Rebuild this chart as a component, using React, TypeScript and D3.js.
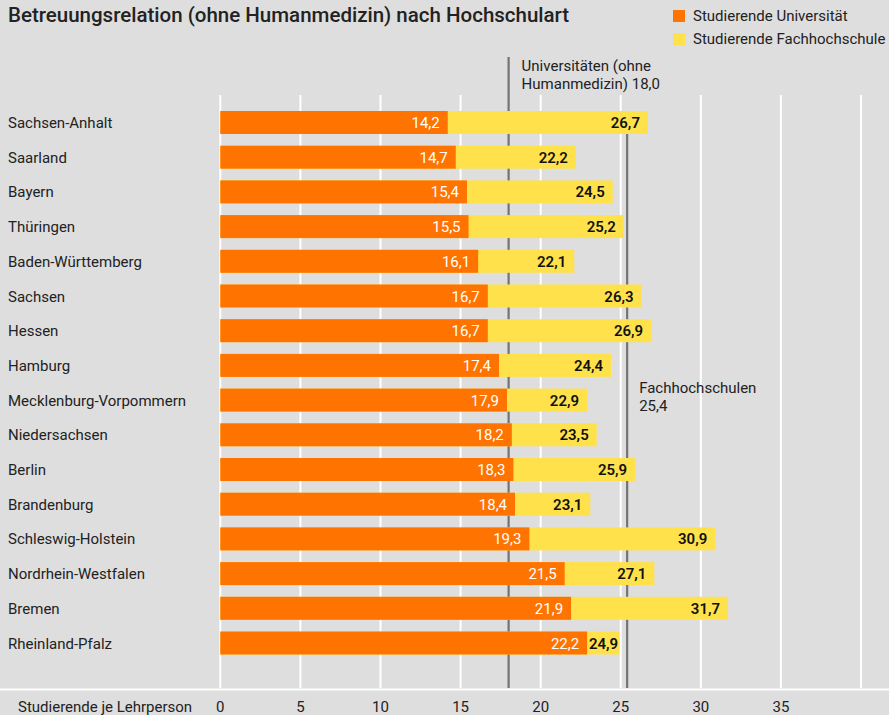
import React from "react";
import * as d3 from "d3";

const title = "Betreuungsrelation (ohne Humanmedizin) nach Hochschulart";
const states = [
  "Sachsen-Anhalt", "Saarland", "Bayern", "Thüringen", "Baden-Württemberg", "Sachsen",
  "Hessen", "Hamburg", "Mecklenburg-Vorpommern", "Niedersachsen", "Berlin", "Brandenburg",
  "Schleswig-Holstein", "Nordrhein-Westfalen", "Bremen", "Rheinland-Pfalz",
];
const uniValues = [14.2, 14.7, 15.4, 15.5, 16.1, 16.7, 16.7, 17.4, 17.9, 18.2, 18.3, 18.4, 19.3, 21.5, 21.9, 22.2];
const fhValues = [26.7, 22.2, 24.5, 25.2, 22.1, 26.3, 26.9, 24.4, 22.9, 23.5, 25.9, 23.1, 30.9, 27.1, 31.7, 24.9];
const seriesNames = ["Studierende Universität", "Studierende Fachhochschule"];
const ticks = [0, 5, 10, 15, 20, 25, 30, 35, 40];
const tickLabels = ["0", "5", "10", "15", "20", "25", "30", "35", ""];
const axisTitle = "Studierende je Lehrperson";
const uniRef = 18.0;
const fhRef = 25.4;
const uniRefLabel = ["Universitäten (ohne", "Humanmedizin) 18,0"];
const fhRefLabel = ["Fachhochschulen", "25,4"];

const W = 889, H = 715;
const BG = "#dedede";
const ORANGE = "#ff7300";
const YELLOW = "#ffe24b";
const REF = "#737373";
const FONT = "Roboto, 'Noto Sans', sans-serif";

const loc = d3.formatLocale({ decimal: ",", thousands: ".", grouping: [3], currency: ["", "€"] });
const fmt = loc.format(".1f");

export default function App() {
  const x = d3.scaleLinear().domain([0, 40]).range([220.3, 861]);
  const y = d3.scaleBand<string>().domain(states).range([105.15, 105.15 + 16 * 34.7]).paddingInner(0.337).paddingOuter(0.1685);
  const bw = y.bandwidth();
  const gridTop = 95, gridBottom = 688;
  const labelW = 30;

  return (
    <svg width={W} height={H} style={{ position: "absolute", left: 0, top: 0, fontFamily: FONT }}>
      <rect x={0} y={0} width={W} height={H} fill={BG} />
      <text x={8} y={22} fontSize={20.5} fontWeight={500} fill="#222">{title}</text>
      {seriesNames.map((s, i) => (
        <g key={s}>
          <rect x={673} y={10 + i * 23} width={12} height={12} fill={i === 0 ? ORANGE : YELLOW} />
          <text x={693} y={21 + i * 23} fontSize={15} fill="#222">{s}</text>
        </g>
      ))}
      {ticks.map((t) => (
        <line key={t} x1={x(t)} x2={x(t)} y1={gridTop} y2={gridBottom} stroke="#fff" strokeWidth={2} />
      ))}
      <line x1={0} x2={W} y1={689.5} y2={689.5} stroke="#fff" strokeWidth={2} />
      <line x1={x(uniRef)} x2={x(uniRef)} y1={57} y2={gridBottom} stroke={REF} strokeWidth={2.2} />
      <line x1={x(fhRef)} x2={x(fhRef)} y1={y(states[0])!} y2={gridBottom} stroke={REF} strokeWidth={2.2} />
      {uniRefLabel.map((l, i) => (
        <text key={l} x={x(uniRef) + 13} y={71 + i * 18} fontSize={15} fill="#222">{l}</text>
      ))}
      {fhRefLabel.map((l, i) => (
        <text key={l} x={x(fhRef) + 12} y={393 + i * 18} fontSize={15} fill="#222">{l}</text>
      ))}
      {states.map((s, i) => {
        const yy = y(s)!;
        const xu = x(uniValues[i]);
        const xf = x(fhValues[i]);
        const uEnd = xf - xu < labelW + 16 ? Math.max(xu, xf - labelW - 2) : xu;
        const cy = yy + bw / 2;
        return (
          <g key={s}>
            <text x={8} y={cy + 5.5} fontSize={15} fill="#222">{s}</text>
            <rect x={x(0)} y={yy} width={xf - x(0)} height={bw} fill={YELLOW} />
            <rect x={x(0)} y={yy} width={uEnd - x(0)} height={bw} fill={ORANGE} />
            <text x={uEnd - 8} y={cy + 5.5} fontSize={15} fill="#fff" textAnchor="end">{fmt(uniValues[i])}</text>
            <text x={Math.max(xf - 8, uEnd + labelW + 1)} y={cy + 5.5} fontSize={15} fontWeight={600} fill="#111" textAnchor="end">{fmt(fhValues[i])}</text>
          </g>
        );
      })}
      <text x={18} y={712} fontSize={15} fill="#222">{axisTitle}</text>
      {ticks.map((t, i) => (
        <text key={t} x={x(t)} y={712} fontSize={15} fill="#222" textAnchor="middle">{tickLabels[i]}</text>
      ))}
    </svg>
  );
}
